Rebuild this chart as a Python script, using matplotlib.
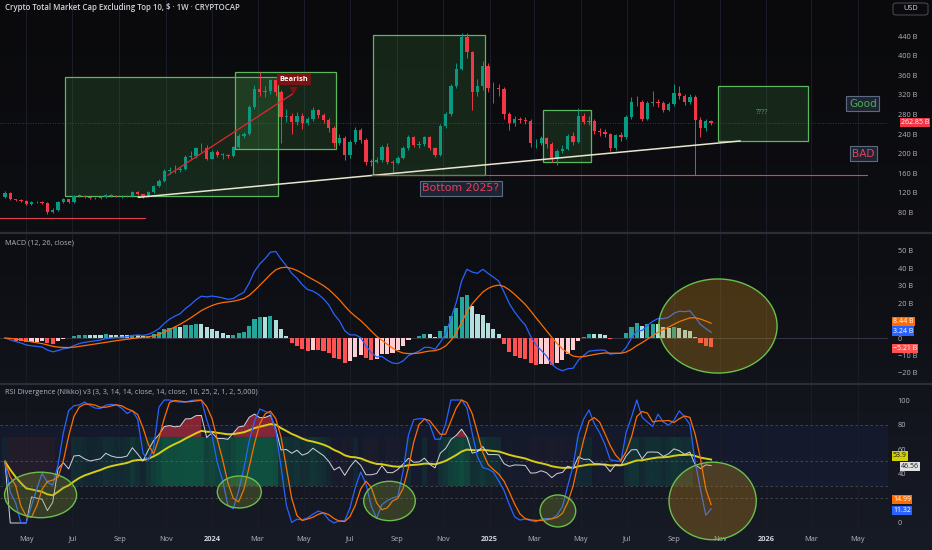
import numpy as np
import pandas as pd
import matplotlib
matplotlib.use('Agg')
import matplotlib.pyplot as plt
import matplotlib.dates as mdates
import matplotlib.transforms as mtransforms
from matplotlib.patches import Rectangle, Ellipse, FancyBboxPatch
from matplotlib.lines import Line2D
from matplotlib.colors import LinearSegmentedColormap

plt.rcParams['font.family'] = ['Open Sans', 'DejaVu Sans']

# weekly candles (billions USD), first bar = week of 2023-04-03, open = previous close
first_week = '2023-04-03'
first_open = 111
closes = [120, 107, 105, 104, 97, 102, 101, 100, 81, 84,
          102, 107, 101, 113.5, 114, 111, 109, 110, 111, 116,
          114, 113, 113, 114, 121, 117, 112, 122, 134, 144,
          164, 167, 166, 168, 194, 195, 211, 212, 190, 204,
          197, 197, 196, 213, 236, 240, 296, 331, 325, 327,
          350, 326, 274, 276, 265, 277, 263, 270, 289, 279,
          269, 252, 222, 231, 197, 224, 248, 228, 183, 183,
          187, 214, 182, 181, 192, 211, 233, 218, 219, 233,
          211, 197, 256, 280, 338, 373, 437, 407, 326, 338,
          379, 333, 334, 332, 280, 262, 270, 269, 267, 221,
          222, 231, 220, 190, 206, 210, 235, 224, 277, 265,
          266, 246, 245, 240, 211, 238, 233, 274, 305, 306,
          270, 304, 305, 304, 289, 301, 324, 318, 306, 316,
          269, 252, 266, 263]
highs = [123, 122, 108, 107, 105, 104, 104, 103, 102, 88,
         104, 109, 108, 116, 117, 115, 112, 112, 113, 118,
         117, 116, 116, 116, 123, 123, 118, 123, 136, 148,
         168, 173, 176, 172, 197, 205, 214, 222, 218, 208,
         207, 202, 200, 216, 240, 245, 300, 340, 367, 338,
         353, 352, 330, 292, 282, 284, 282, 275, 295, 292,
         283, 273, 256, 240, 235, 228, 254, 252, 232, 190,
         193, 218, 222, 186, 196, 216, 238, 236, 226, 236,
         236, 214, 260, 285, 342, 384, 447, 447, 410, 352,
         388, 385, 346, 342, 336, 285, 276, 275, 274, 270,
         230, 236, 234, 224, 210, 218, 240, 244, 294, 282,
         276, 270, 252, 250, 242, 240, 244, 278, 315, 318,
         310, 308, 328, 312, 308, 305, 342, 338, 322, 322,
         320, 274, 270, 268]
lows = [109, 105, 103, 101, 95, 96, 99, 98, 77, 79,
        83, 100, 99, 100, 111, 109, 107, 107, 108, 110,
        112, 111, 110, 111, 112, 115, 110, 111, 120, 131,
        142, 158, 160, 162, 166, 188, 192, 204, 186, 188,
        194, 190, 192, 194, 212, 232, 238, 292, 318, 316,
        322, 318, 221, 265, 240, 258, 250, 258, 266, 272,
        262, 245, 213, 218, 186, 192, 220, 222, 176, 175,
        180, 183, 178, 163, 178, 189, 208, 214, 212, 216,
        207, 193, 195, 252, 276, 334, 370, 395, 290, 318,
        330, 325, 303, 318, 270, 248, 256, 262, 260, 214,
        212, 218, 212, 183, 177, 202, 207, 218, 222, 260,
        258, 240, 236, 233, 205, 208, 226, 230, 270, 298,
        266, 268, 298, 296, 284, 286, 298, 312, 300, 302,
        157, 234, 246, 258]

price_last = 262.85
price_ticks = [80, 120, 160, 200, 240, 280, 320, 360, 400, 440]
macd_ticks = [-20, -10, 0, 20, 30, 40, 50]   # 10 B is hidden under the value labels
rsi_ticks = [0, 40, 60, 80, 100]              # 20 is hidden under the value labels

# drawings on the price pane: (start, end, low, high)
boxes = [('2023-06-21', '2024-03-28', 113.5, 356),
         ('2024-01-31', '2024-06-12', 209, 367),
         ('2024-07-31', '2024-12-26', 156, 443),
         ('2025-03-12', '2025-05-14', 183.5, 289),
         ('2025-10-29', '2026-02-25', 225.7, 337)]
support_line = (('2023-09-26', 110.8), ('2025-11-27', 225.7))
rally_line = (('2023-11-04', 156), ('2024-04-16', 321.6))
red_levels = [('2023-03-28', '2023-10-05', 69), ('2024-07-30', '2026-05-13', 156.3)]

# ellipses: (center date, center value, width days, height)
macd_circles = [('2025-10-29', 6.9, 156, 54)]
rsi_circles = [('2023-05-20', 22.8, 95, 37),
               ('2024-02-06', 25.2, 58, 26),
               ('2024-08-22', 17.9, 68, 32),
               ('2025-04-01', 9.8, 47, 26),
               ('2025-10-22', 17.9, 115, 63)]

# ---------------- indicators ----------------
weeks = pd.date_range(first_week, periods=len(closes), freq='7D')
x = mdates.date2num(weeks.to_pydatetime())
c = np.array(closes, dtype=float)
o = np.array([first_open] + closes[:-1], dtype=float)

cs = pd.Series(c)
macd = cs.ewm(span=12, adjust=False).mean() - cs.ewm(span=26, adjust=False).mean()
signal = macd.ewm(span=9, adjust=False).mean()
hist = macd - signal

delta = cs.diff().fillna(0)
avg_gain = delta.clip(lower=0).ewm(alpha=1 / 14, adjust=False).mean()
avg_loss = (-delta.clip(upper=0)).ewm(alpha=1 / 14, adjust=False).mean()
rsi = (100 - 100 / (1 + avg_gain / avg_loss.replace(0, np.nan))).fillna(50)
lo14 = rsi.rolling(14, min_periods=1).min()
hi14 = rsi.rolling(14, min_periods=1).max()
stoch = ((rsi - lo14) / (hi14 - lo14).replace(0, np.nan) * 100).fillna(50)
k_line = stoch.rolling(3, min_periods=1).mean()
d_line = k_line.rolling(3, min_periods=1).mean()
rsi_ma = rsi.ewm(span=14, adjust=False).mean()

# ---------------- figure ----------------
W, H = 932, 550
fig = plt.figure(figsize=(W / 100, H / 100), dpi=100, facecolor='#0b0b0d')

bg = fig.add_axes([0, 0, 1, 1], zorder=-10)
grad = np.linspace(0, 1, 256).reshape(-1, 1)
bg.imshow(grad, aspect='auto', extent=[0, 1, 0, 1], origin='upper',
          cmap=LinearSegmentedColormap.from_list('bg', ['#0a0a0c', '#0e0f14', '#171b26']))
bg.axis('off')


def px_rect(x0, y0, x1, y1):
    return [x0 / W, 1 - y1 / H, (x1 - x0) / W, (y1 - y0) / H]


ax_p = fig.add_axes(px_rect(0, 0, 888, 232))
ax_m = fig.add_axes(px_rect(0, 234, 888, 383), sharex=ax_p)
ax_r = fig.add_axes(px_rect(0, 385, 888, 530), sharex=ax_p)

ref = mdates.date2num(pd.Timestamp('2024-01-01'))
ax_p.set_xlim(ref - 279.5, ref + 891.2)
ax_p.set_ylim(40, 513.5)
ax_m.set_ylim(-25.8, 59.7)
ax_r.set_ylim(-5.7, 112.2)

for ax in (ax_p, ax_m, ax_r):
    ax.set_facecolor('none')
    for s in ax.spines.values():
        s.set_visible(False)
    ax.yaxis.tick_right()
    ax.tick_params(axis='y', length=0, pad=7, labelsize=5.3, labelcolor='#b2b5be')
    ax.tick_params(axis='x', length=0, labelbottom=False)
    ax.grid(axis='x', color='#1b1e28', lw=0.7)
    ax.set_axisbelow(True)

# x ticks
tick_dates = pd.date_range('2023-05-01', '2026-05-01', freq='2MS')
ax_r.set_xticks(mdates.date2num(tick_dates.to_pydatetime()))
ax_r.set_xticklabels([str(d.year) if d.month == 1 else d.strftime('%b') for d in tick_dates])
ax_r.tick_params(axis='x', labelbottom=True, labelsize=5.3, labelcolor='#b2b5be', pad=4)
for lbl, d in zip(ax_r.get_xticklabels(), tick_dates):
    if d.month == 1:
        lbl.set_color('#d1d4dc')
        lbl.set_fontweight('bold')

ax_p.set_yticks(price_ticks)
ax_p.set_yticklabels([f'{t} B' for t in price_ticks])
ax_m.set_yticks(macd_ticks)
ax_m.set_yticklabels(['0' if t == 0 else f'{t} B'.replace('-', '\u2212') for t in macd_ticks])
ax_r.set_yticks(rsi_ticks)
ax_r.set_yticklabels([str(t) for t in rsi_ticks])

d2n = lambda s: mdates.date2num(pd.Timestamp(s))

# ---- price pane ----
for d0, d1, lo, hi in boxes:
    ax_p.add_patch(Rectangle((d2n(d0), lo), d2n(d1) - d2n(d0), hi - lo,
                             facecolor=(0.30, 0.69, 0.31, 0.17), edgecolor='#5cb85f', lw=0.9, zorder=2))
ax_p.text(d2n('2025-12-27'), 283, '????', color='#5c9a62', fontsize=5.2, ha='center', va='center', zorder=5)

col = np.where(c >= o, '#089981', '#f23645')
ax_p.vlines(x, lows, highs, colors=col, lw=0.7, zorder=3)
ax_p.bar(x, np.maximum(np.abs(c - o), 1.2), bottom=np.minimum(o, c), width=4.4,
         color=col, linewidth=0, zorder=4)

(sd0, sv0), (sd1, sv1) = support_line
ax_p.plot([d2n(sd0), d2n(sd1)], [sv0, sv1], color='#e9e6cf', lw=1.1, zorder=5)
(rd0, rv0), (rd1, rv1) = rally_line
ax_p.plot([d2n(rd0), d2n(rd1)], [rv0, rv1], color='#e3262f', lw=0.9, zorder=5)
for d0, d1, v in red_levels:
    ax_p.plot([d2n(d0), d2n(d1)], [v, v], color='#e0424f', lw=0.8, zorder=5)

ax_p.axhline(price_last, color='#f23645', lw=0.6, ls=(0, (1, 2)), alpha=0.6, zorder=1)

ax_p.text(d2n('2024-04-18'), 352, 'Bearish', color='white', fontsize=5.4, fontweight='bold',
          ha='center', va='center', zorder=7,
          bbox=dict(boxstyle='round,pad=0.35,rounding_size=0.2', fc='#7d1212', ec='none'))
ax_p.plot(d2n('2024-04-17'), 330, marker='v', ms=4, color='#7d1212', zorder=7)

lab_box = dict(boxstyle='square,pad=0.25', fc='#1d2433', ec='#5d6a80', lw=0.8)
ax_p.text(d2n('2024-11-24'), 128.8, 'Bottom 2025?', color='#e2435a', fontsize=7.8,
          family='DejaVu Sans', ha='center', va='center', zorder=7, bbox=lab_box)
ax_p.text(d2n('2026-05-08'), 302, 'Good', color='#4caf50', fontsize=7.6,
          family='DejaVu Sans', ha='center', va='center', zorder=7, bbox=lab_box)
ax_p.text(d2n('2026-05-09'), 200, 'BAD', color='#e2435a', fontsize=7.6,
          family='DejaVu Sans', ha='center', va='center', zorder=7, bbox=lab_box)

# ---- MACD pane ----
prev = np.r_[0, hist.values[:-1]]
hv = hist.values
hcol = np.where(hv >= 0, np.where(hv >= prev, '#26a69a', '#b2dfdb'),
                np.where(hv < prev, '#ff5252', '#ffcdd2'))
ax_m.bar(x, hv, width=5.4, color=hcol, linewidth=0, zorder=2)
ax_m.axhline(0, color='#787b86', lw=0.5, alpha=0.5, zorder=1)
ax_m.plot(x, macd, color='#2962ff', lw=0.9, zorder=3)
ax_m.plot(x, signal, color='#ff6d00', lw=0.9, zorder=3)
for d, v, w, h in macd_circles:
    ax_m.add_patch(Ellipse((d2n(d), v), w, h, facecolor=(0.80, 0.55, 0.10, 0.30),
                           edgecolor='#6abf4b', lw=1.0, zorder=4))

# ---- RSI pane ----
ax_r.axhspan(30, 80, color='#2962ff', alpha=0.06, lw=0, zorder=0)
heat = []
for v in rsi.values:
    if v >= 50:
        heat.append((0.03, 0.60, 0.35, min(0.42, 0.08 + (v - 50) / 30 * 0.34)))
    else:
        heat.append((0.40, 0.16, 0.14, min(0.18, (50 - v) / 25 * 0.18)))
ax_r.bar(x, 40, bottom=30, width=7, color=heat, linewidth=0, zorder=1)
for lvl in (80, 50, 30, 20):
    ax_r.axhline(lvl, color='#787b86', lw=0.6, ls=(0, (3, 3)), alpha=0.5, zorder=1)
ax_r.fill_between(x, 70, rsi, where=rsi > 70, color='#f23645', alpha=0.5, lw=0, zorder=2)
ax_r.plot(x, rsi_ma, color='#d8cc16', lw=1.4, zorder=3)
ax_r.plot(x, rsi, color='#d1d4dc', lw=0.7, zorder=3)
ax_r.plot(x, k_line, color='#2962ff', lw=0.9, zorder=4)
ax_r.plot(x, d_line, color='#ff6d00', lw=0.9, zorder=4)
for d, v, w, h in rsi_circles[:-1]:
    ax_r.add_patch(Ellipse((d2n(d), v), w, h, facecolor=(0.55, 0.62, 0.20, 0.28),
                           edgecolor='#6abf4b', lw=1.0, zorder=5))
d, v, w, h = rsi_circles[-1]
ax_r.add_patch(Ellipse((d2n(d), v), w, h, facecolor=(0.80, 0.55, 0.10, 0.30),
                       edgecolor='#6abf4b', lw=1.0, zorder=5, clip_on=False))

# ---- last value labels on the scale ----
def scale_label(ax, xpx, y, text, fc, tc='white'):
    tr = mtransforms.blended_transform_factory(ax.transAxes, ax.transData)
    ax.text(xpx / 888, y, text, transform=tr, fontsize=5.0, color=tc, ha='left', va='center',
            clip_on=False, zorder=10,
            bbox=dict(boxstyle='square,pad=0.16', fc=fc, ec='none'))


scale_label(ax_p, 901, price_last, '262.85 B', '#f23645')
scale_label(ax_m, 893, 9.6, '8.44 B', '#ff6d00')
scale_label(ax_m, 893, 4.0, '3.24 B', '#2962ff')
scale_label(ax_m, 893, -5.9, '\u22125.21 B', '#ff5252')
scale_label(ax_r, 893, 54.5, '53.9', '#d4d000', '#131722')
scale_label(ax_r, 901, 45.8, '46.56', '#e0e0e0', '#131722')
scale_label(ax_r, 893, 19.4, '14.99', '#ff6d00')
scale_label(ax_r, 893, 10.0, '11.32', '#2962ff')

# ---- chrome ----
for ypx in (233, 384):
    fig.add_artist(Line2D([0, 1], [1 - ypx / H] * 2, color='#2a2e39', lw=1.6))

fig.text(5 / W, 1 - 8 / H, 'Crypto Total Market Cap Excluding Top 10, $ \u00b7 1W \u00b7 CRYPTOCAP',
         fontsize=5.7, color='#d1d4dc', fontweight='semibold', va='center')
fig.text(5 / W, 1 - 243 / H, 'MACD (12, 26, close)', fontsize=5.2, color='#b2b5be', va='center')
fig.text(5 / W, 1 - 393 / H, 'RSI Divergence (Nikko) v3 (3, 3, 14, 14, close, 14, close, 10, 25, 2, 1, 2, 5,000)',
         fontsize=5.2, color='#b2b5be', va='center')
fig.add_artist(FancyBboxPatch((893 / W, 1 - 15 / H), 35 / W, 12 / H, transform=fig.transFigure,
                              boxstyle='round,pad=0,rounding_size=0.004', fc='#0b0b0d', ec='#434651', lw=0.8))
fig.text(910.5 / W, 1 - 9 / H, 'USD', fontsize=5.3, color='#d1d4dc', ha='center', va='center')

fig.savefig('out.png', dpi=100, facecolor=fig.get_facecolor())
